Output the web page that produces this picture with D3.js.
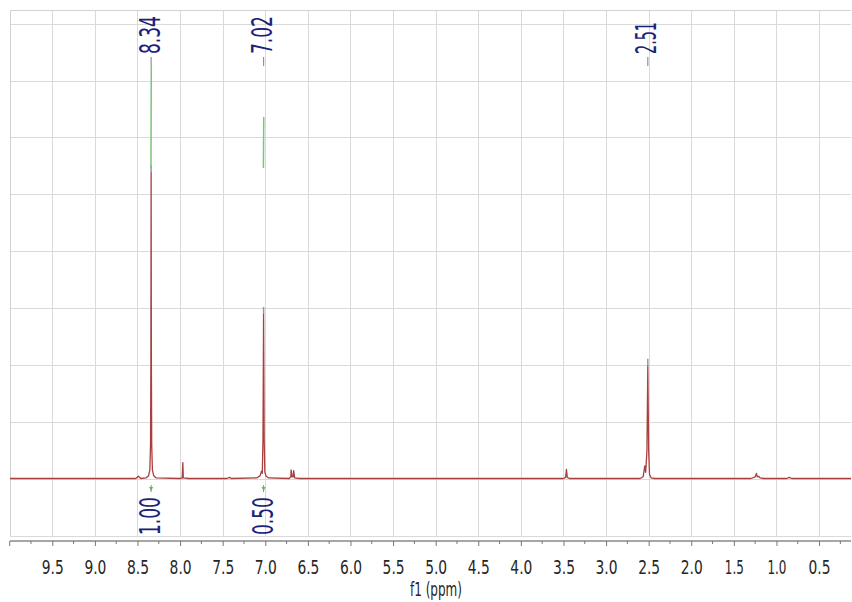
<!DOCTYPE html>
<html>
<head>
<meta charset="utf-8">
<script src="https://cdn.jsdelivr.net/npm/d3@7"></script>
<style>
  body { margin: 0; background: #fff; }
  svg { display: block; }
</style>
</head>
<body>
<svg width="852" height="602"></svg>
<script>
// spectrum trace, [ppm, relative intensity]
var spectrum = [
    [10.0, 0.001], [9.2, 0.001], [8.7, 0.001], [8.52, 0.001], [8.49, 0.005], [8.46, 0.001],
    [8.40, 0.002], [8.37, 0.006], [8.355, 0.016], [8.347, 0.06], [8.343, 0.2], [8.34, 0.539],
    [8.337, 0.2], [8.333, 0.06], [8.325, 0.016], [8.31, 0.006], [8.28, 0.002],
    [8.0, 0.001], [7.975, 0.002], [7.968, 0.029], [7.962, 0.002], [7.9, 0.001],
    [7.45, 0.001], [7.42, 0.003], [7.40, 0.001],
    [7.10, 0.002], [7.06, 0.006], [7.045, 0.014], [7.035, 0.01], [7.027, 0.07], [7.02, 0.290],
    [7.013, 0.07], [7.005, 0.012], [6.99, 0.005], [6.96, 0.002],
    [6.72, 0.001], [6.70, 0.004], [6.697, 0.016], [6.685, 0.004], [6.672, 0.004], [6.667, 0.015],
    [6.655, 0.002], [6.6, 0.001],
    [5.0, 0.001], [3.5, 0.001], [3.475, 0.003], [3.465, 0.017], [3.455, 0.003], [3.43, 0.001],
    [2.60, 0.001], [2.565, 0.004], [2.545, 0.023], [2.535, 0.012], [2.52, 0.05], [2.51, 0.199],
    [2.50, 0.05], [2.49, 0.008], [2.47, 0.002], [2.43, 0.001],
    [1.30, 0.001], [1.25, 0.004], [1.235, 0.010], [1.225, 0.004], [1.21, 0.005], [1.19, 0.002],
    [1.15, 0.001], [0.88, 0.001], [0.85, 0.003], [0.82, 0.001], [0.125, 0.001]
];

var peakLabels = [8.34, 7.02, 2.51];
var peakTops = [0.539, 0.290, 0.199];

var integralFrom = [8.342, 7.022];
var integralTo = [8.338, 7.018];
var integralValues = [1.00, 0.50];
var integralLabels = ["1.00", "0.50"];

var xTicks = [9.5, 9.0, 8.5, 8.0, 7.5, 7.0, 6.5, 6.0, 5.5, 5.0, 4.5, 4.0, 3.5, 3.0, 2.5, 2.0, 1.5, 1.0, 0.5];
var yGrid = [-0.1, 0, 0.1, 0.2, 0.3, 0.4, 0.5, 0.6, 0.7, 0.8];

var svg = d3.select("svg");
var pLeft = 10, pRight = 851, pTop = 10, pBottom = 536;
var labelFont = "'Liberation Sans Narrow', 'DejaVu Sans Condensed', 'Arial Narrow', sans-serif";
var navy = "#1a2278";

var x = d3.scaleLinear().domain([10, 0.125]).range([9.7, 851]);
var y = d3.scaleLinear().domain([-0.1, 0.8]).range([536, 23.6]);
// integral curve scale (1.00 spans ~102px)
var yInt = d3.scaleLinear().domain([0, 1]).range([168, 66]);

// squeeze a rotated label to a given length along its baseline
function fitRotated(sel, px, py, len) {
    sel.each(function(d, i) {
        var w = this.getComputedTextLength();
        var s = len(d) / w;
        d3.select(this).attr("transform",
            "translate(" + px(d, i) + "," + py + ") rotate(-90) scale(" + s + ",1)");
    });
}

svg.append("defs").append("clipPath").attr("id", "plotclip")
    .append("rect").attr("x", pLeft).attr("y", pTop)
    .attr("width", pRight - pLeft).attr("height", pBottom - pTop);

var grid = svg.append("g").attr("stroke", "#dadada").attr("stroke-width", 1);

grid.selectAll(".vg")
    .data(xTicks)
    .enter().append("line")
    .attr("x1", d => Math.round(x(d)) + 0.5).attr("x2", d => Math.round(x(d)) + 0.5)
    .attr("y1", pTop).attr("y2", pBottom);

grid.selectAll(".hg")
    .data(yGrid)
    .enter().append("line")
    .attr("x1", pLeft).attr("x2", pRight)
    .attr("y1", d => Math.round(y(d)) + 0.5).attr("y2", d => Math.round(y(d)) + 0.5);

// frame
grid.append("path")
    .attr("fill", "none")
    .attr("stroke", "#d2d2d2")
    .attr("d", "M" + (pLeft + 0.5) + "," + pBottom + "V" + (pTop + 0.5) + "H" + pRight);

var plot = svg.append("g").attr("clip-path", "url(#plotclip)");

// spectrum
var line = d3.line().x(d => x(d[0])).y(d => y(d[1]));
plot.append("path")
    .datum(spectrum)
    .attr("fill", "none")
    .attr("stroke", "#a8403f")
    .attr("stroke-width", 1.3)
    .attr("stroke-linejoin", "round")
    .attr("d", line);

// peak-pick caps
plot.selectAll(".cap")
    .data(peakLabels)
    .enter().append("line")
    .attr("x1", d => x(d)).attr("x2", d => x(d))
    .attr("y1", (d, i) => y(peakTops[i]) - 7)
    .attr("y2", (d, i) => y(peakTops[i]))
    .attr("stroke", "#8f95c0")
    .attr("stroke-width", 1.5);

// integral curves
plot.selectAll(".integral")
    .data(integralValues)
    .enter().append("line")
    .attr("x1", (d, i) => x(integralFrom[i])).attr("x2", (d, i) => x(integralTo[i]))
    .attr("y1", yInt(0)).attr("y2", d => yInt(d))
    .attr("stroke", "#7cc47a")
    .attr("stroke-width", 1.5);

// integral markers under baseline
var marks = plot.selectAll(".imark")
    .data(integralFrom)
    .enter().append("g")
    .attr("transform", (d, i) => "translate(" + x((integralFrom[i] + integralTo[i]) / 2) + "," + (y(0) + 6) + ")");
marks.append("line")
    .attr("y1", 0).attr("y2", 7)
    .attr("stroke", "#8c8c8c").attr("stroke-width", 1);
marks.append("path")
    .attr("d", "M-2,2L0,6L2,2Z")
    .attr("fill", "#5cb85c");

// integral labels
plot.selectAll(".ilabel")
    .data(integralLabels)
    .enter().append("text")
    .attr("dy", "0.36em")
    .attr("font-family", labelFont)
    .attr("font-size", 28)
    .attr("fill", navy)
    .text(d => d)
    .call(fitRotated, (d, i) => x((integralFrom[i] + integralTo[i]) / 2) - 1, 535, d => 38);

// peak labels with their leader ticks
svg.selectAll(".lead")
    .data(peakLabels)
    .enter().append("line")
    .attr("x1", d => x(d)).attr("x2", d => x(d))
    .attr("y1", 57).attr("y2", 66)
    .attr("stroke", "#8f8f9f")
    .attr("stroke-width", 1.2);

svg.selectAll(".plabel")
    .data(peakLabels)
    .enter().append("text")
    .attr("dy", "0.36em")
    .attr("font-family", labelFont)
    .attr("font-size", 28)
    .attr("fill", navy)
    .text(d => d3.format(".2f")(d))
    .call(fitRotated, d => x(d) - 1.5, 54, d => d3.format(".2f")(d).indexOf("1") >= 0 ? 32 : 38);

// bottom axis
var axis = d3.axisBottom(x)
    .tickValues(xTicks)
    .tickSize(5)
    .tickPadding(15)
    .tickFormat(d3.format(".1f"));

var gx = svg.append("g")
    .attr("transform", "translate(0,541)")
    .call(axis);
gx.select(".domain")
    .attr("stroke", "#8a8a8a")
    .attr("stroke-width", 1.5)
    .attr("d", "M" + pLeft + ",0H" + pRight);
gx.selectAll(".tick line").attr("stroke", "#777");
gx.selectAll(".tick text")
    .attr("font-family", labelFont)
    .attr("font-size", 19)
    .attr("textLength", d => d3.format(".1f")(d).indexOf("1") >= 0 ? 19 : 22)
    .attr("lengthAdjust", "spacingAndGlyphs")
    .attr("fill", "#262626");

var minor = d3.range(0.25, 10.01, 0.5).concat([10]);
gx.selectAll(".minor")
    .data(minor)
    .enter().append("line")
    .attr("x1", d => x(d)).attr("x2", d => x(d))
    .attr("y1", 0).attr("y2", d => d === 10 ? 5 : 3)
    .attr("stroke", "#777");

svg.append("text")
    .attr("x", 436)
    .attr("y", 596)
    .attr("text-anchor", "middle")
    .attr("textLength", 52)
    .attr("lengthAdjust", "spacingAndGlyphs")
    .attr("font-family", labelFont)
    .attr("font-size", 20)
    .attr("fill", "#262626")
    .text("f1 (ppm)");
</script>
</body>
</html>
